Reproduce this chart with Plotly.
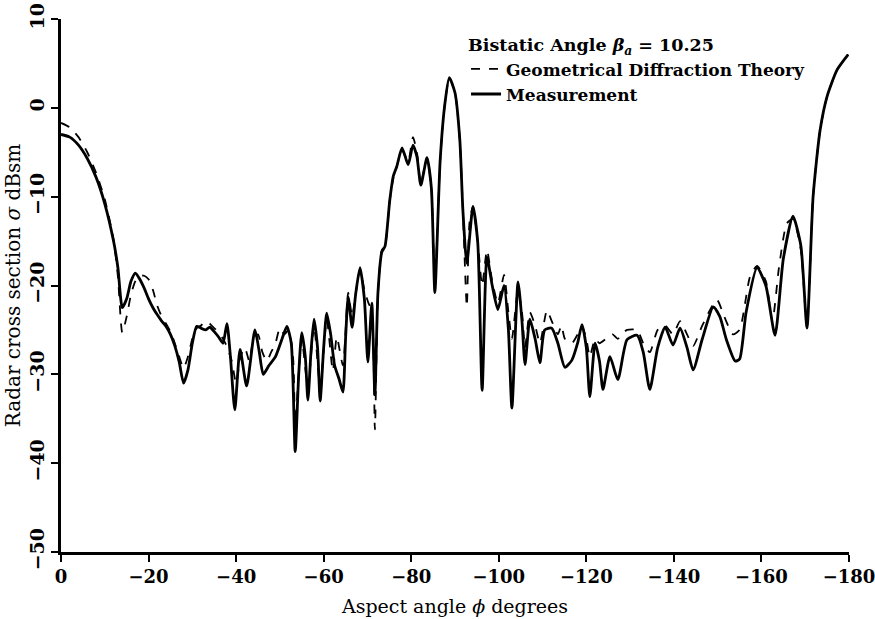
import plotly.graph_objects as go

# Measurement (solid)
meas_angle = [0, -2, -4, -6, -8, -10, -12, -13, -14, -15, -16, -17, -18, -19, -20, -21, -22, -23, -24, -25,
              -26, -27, -28, -29, -30, -31, -32, -33, -34, -35, -36, -37, -37.9, -38.7, -39.7, -40.9, -42.4,
              -44.3, -45.3, -46.2, -47.5, -49, -50.5, -51.6, -52.6, -53.5, -54.3, -55, -55.8, -56.4, -57.1,
              -57.8, -58.6, -59.2, -60, -60.7, -61.6, -62.5, -63.5, -64.4, -65, -65.6, -66.5, -67.3, -68.3,
              -69.3, -70.1, -71, -71.7, -72.4, -73.3, -74, -75.1, -75.9, -76.7, -77.9, -79.3, -80.4, -81.3,
              -82.2, -83.6, -84.6, -85.4, -86.6, -87.7, -88.7, -90, -91.1, -91.8, -92.7, -94.1, -95.2, -96.2,
              -97.3, -98.5, -99.8, -101.2, -102.2, -103, -104.4, -105.3, -106, -107.1, -108.3, -109.4, -110.5,
              -112.1, -113.5, -115.1, -116.7, -118, -119, -120, -120.8, -122, -123, -123.8, -125.4, -127.2,
              -129.3, -131.6, -133, -134.5, -136.3, -138, -139.8, -141.4, -143, -144.4, -146.5, -149, -150.5,
              -152, -154, -155, -156.5, -159, -161, -163.1, -165, -167.2, -169, -170.4, -171.8, -173.4, -175,
              -177.3, -179.8]
meas_rcs = [-3.0, -3.3, -4.2, -5.7, -7.8, -10.8, -15.0, -18.0, -22.5, -21.5, -19.5, -18.6, -19.3, -20.3, -21.5,
            -22.5, -23.3, -24.0, -24.6, -25.5, -26.8, -28.6, -31.0, -29.5, -26.5, -24.6, -24.8, -25.0, -24.7,
            -25.2, -25.8, -26.5, -24.3, -28.0, -34.0, -27.2, -31.3, -25.0, -27.5, -30.0, -29.0, -28.0, -26.0,
            -24.6, -26.5, -38.7, -30.0, -25.3, -28.0, -32.9, -27.5, -23.8, -27.0, -33.0, -27.0, -23.1, -25.5,
            -29.0, -30.5, -32.0, -26.0, -21.3, -24.7, -21.0, -18.0, -21.5, -28.6, -22.0, -32.3, -20.8, -16.2,
            -15.6, -10.4, -7.7, -6.6, -4.5, -6.4, -4.2, -5.5, -8.7, -5.6, -9.0, -20.8, -6.0, 0.5, 3.4, 1.7,
            -3.6, -11.5, -17.5, -11.1, -15.2, -31.8, -16.8, -20.0, -22.7, -20.0, -25.0, -33.8, -19.6, -24.0,
            -28.9, -23.8, -26.0, -28.7, -25.0, -24.8, -26.5, -29.2, -28.4, -26.5, -24.4, -27.0, -32.5, -26.5,
            -28.5, -31.7, -28.0, -30.6, -26.1, -25.6, -27.5, -31.7, -27.0, -24.7, -26.7, -24.8, -27.0, -29.5,
            -26.0, -22.4, -23.5, -26.1, -28.5, -28.3, -23.0, -18.0, -20.0, -25.6, -17.0, -12.2, -15.5, -24.8,
            -10.0, -2.5, 1.3, 4.3, 6.0]

# Geometrical Diffraction Theory (dashed)
gtd_angle = [0, -2, -4, -6, -8, -10, -12, -13, -14, -15, -16, -17, -18, -19, -20, -21, -22, -23, -24, -25,
             -26, -27, -28, -29, -30, -31, -32, -33, -34, -35, -36, -37, -38, -39, -40, -41, -42, -43, -44,
             -45, -46, -47, -48, -49, -50, -51, -52, -53, -53.5, -54.3, -55, -56.4, -57.8, -59.2, -60.7,
             -62.1, -63, -64.4, -65.6, -66.5, -67.3, -68.3, -69.3, -70.1, -71, -71.7, -72.4, -73.3, -74,
             -75.1, -75.9, -76.7, -77.9, -79.3, -80.4, -81.3, -82.2, -83.6, -84.6, -85.4, -86.6, -87.7,
             -88.7, -90, -91.1, -91.8, -92.7, -93.3, -94.1, -95.2, -96.2, -97.3, -98.5, -99.8, -101.2,
             -102.2, -103, -104.4, -105.3, -106, -107.1, -108.3, -109.4, -111, -112.1, -113.5, -114.3,
             -115.1, -116.7, -118, -119, -120, -120.8, -122, -123, -124.5, -126, -127.2, -128.5, -129.3,
             -131.6, -133, -134.5, -136.3, -138, -139.8, -141.4, -143, -144.4, -146.5, -149.8, -151.5,
             -153.5, -155, -157.4, -159, -161, -162.5, -164, -165.8, -167.2, -169, -170.4, -171.8, -173.4,
             -175, -177.3, -179.8]
gtd_rcs = [-1.7, -2.2, -3.3, -5.0, -7.3, -10.3, -14.8, -19.0, -25.3, -23.5, -21.0, -19.5, -18.9, -18.9, -19.3,
           -20.5, -22.3, -23.5, -24.3, -25.2, -26.5, -28.0, -29.3, -28.0, -26.0, -24.8, -24.5, -24.0, -24.3,
           -24.8, -25.3, -26.0, -27.0, -28.5, -31.0, -28.0, -27.0, -28.5, -26.0, -25.5, -27.5, -28.5, -27.5,
           -26.5, -24.8, -25.5, -25.0, -28.0, -35.5, -30.0, -26.0, -31.5, -24.5, -31.5, -23.8, -29.6, -25.8,
           -29.0, -20.8, -23.5, -21.0, -18.2, -20.5, -21.8, -23.0, -36.2, -21.0, -16.0, -15.6, -10.4, -8.0,
           -6.6, -4.8, -6.0, -3.3, -5.0, -8.5, -5.6, -9.0, -20.0, -6.0, 0.5, 3.4, 1.7, -3.6, -11.5, -22.4,
           -13.0, -11.1, -15.0, -20.0, -16.0, -19.5, -22.0, -18.8, -23.0, -26.0, -20.5, -23.0, -27.0, -23.0,
           -24.5, -26.5, -22.8, -24.0, -25.5, -24.5, -26.0, -26.5, -25.5, -24.6, -26.0, -28.0, -26.0, -26.5,
           -26.0, -25.5, -26.0, -25.3, -25.0, -25.0, -26.5, -27.5, -25.0, -24.5, -25.5, -24.0, -25.5, -26.8,
           -24.5, -21.6, -23.5, -25.5, -25.0, -19.0, -17.8, -19.5, -24.0, -18.0, -13.0, -12.5, -16.0, -24.8,
           -10.0, -2.5, 1.3, 4.3, 6.0]

x_ticks = [0, -20, -40, -60, -80, -100, -120, -140, -160, -180]
y_ticks = [10, 0, -10, -20, -30, -40, -50]

FONT = "DejaVu Serif"

fig = go.Figure()
fig.add_trace(go.Scatter(x=gtd_angle, y=gtd_rcs, mode="lines", name="Geometrical Diffraction Theory",
                         line=dict(color="black", width=1.8, dash="dash", shape="spline", smoothing=0.6)))
fig.add_trace(go.Scatter(x=meas_angle, y=meas_rcs, mode="lines", name="Measurement",
                         line=dict(color="black", width=2.8, shape="spline", smoothing=0.6)))

fig.update_layout(
    width=875, height=619,
    margin=dict(l=61, r=26, t=19, b=67),
    paper_bgcolor="white", plot_bgcolor="white",
    font=dict(family=FONT, color="black", size=17),
    legend=dict(
        title=dict(text="Bistatic Angle <i>β<sub>a</sub></i> = 10.25", side="top",
                   font=dict(family=FONT, size=17.5, weight="bold")),
        x=0.514, y=0.982, xanchor="left", yanchor="top",
        bgcolor="rgba(0,0,0,0)", itemwidth=30, tracegroupgap=0,
        font=dict(family=FONT, size=17, weight="bold"),
    ),
    xaxis=dict(
        range=[0, -180], tickvals=x_ticks, showgrid=False, zeroline=False, automargin=False,
        ticklabeloverflow="allow",
        showline=True, linecolor="black", linewidth=2.5,
        ticks="outside", ticklen=7, tickwidth=2, tickcolor="black",
        tickfont=dict(family=FONT, size=18, weight="bold"),
        title=dict(text="Aspect angle <i>ϕ</i> degrees", font=dict(family=FONT, size=19), standoff=14),
    ),
    yaxis=dict(
        range=[-50, 10], tickvals=y_ticks, showgrid=False, zeroline=False, automargin=False,
        ticklabeloverflow="allow",
        showline=True, linecolor="black", linewidth=2.5,
        ticks="outside", ticklen=7, tickwidth=2, tickcolor="black", tickangle=-90,
        tickfont=dict(family=FONT, size=19, weight="bold"),
        title=dict(text="Radar cross section <i>σ</i> dBsm", font=dict(family=FONT, size=20), standoff=0),
    ),
)

fig.write_html("out.html", config={"displayModeBar": False},
               post_script="document.body.style.margin='0';")
